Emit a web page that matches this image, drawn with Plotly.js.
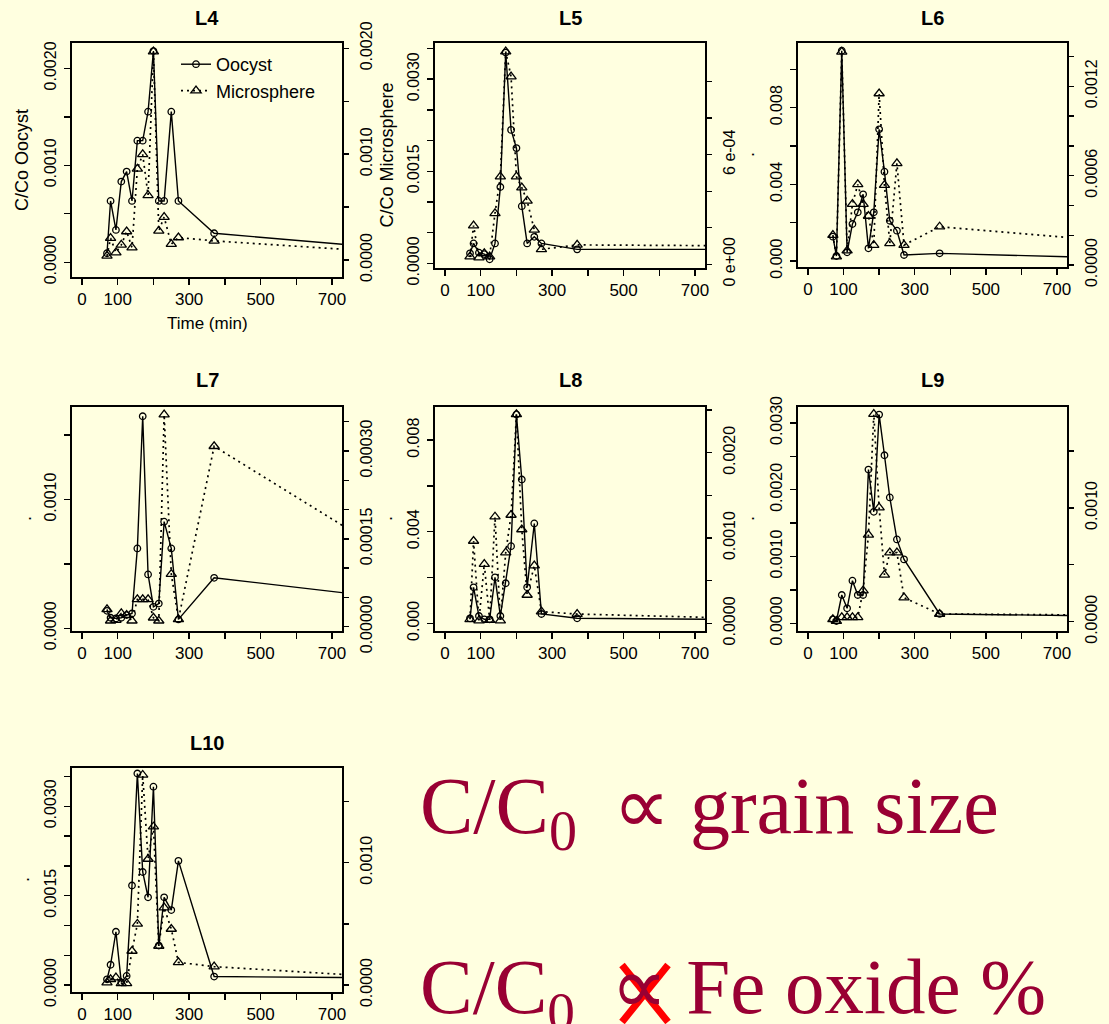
<!DOCTYPE html>
<html>
<head>
<meta charset="utf-8">
<script src="https://cdn.plot.ly/plotly-3.0.1.min.js"></script>
<style>
  html, body { margin: 0; padding: 0; background: #FFFFE0; }
  #chart { width: 1109px; height: 1024px; }
</style>
</head>
<body>
<div id="chart"></div>
<script>
// Sampling times (min); the final sample falls past the plotted window
const timeMin = [70, 80, 95, 110, 125, 140, 155, 170, 185, 200, 215, 230, 250, 270, 370, 750];

// C/Co of oocysts (left axis) and microspheres (right axis) per column
const oocystL4 = [0.000093, 0.000632, 0.000333, 0.000832, 0.000935, 0.000632, 0.001254, 0.001254, 0.001553, 0.002178, 0.000632, 0.000632, 0.001553, 0.000632, 0.000299, 0.000179];
const microL4  = [0.000038, 0.000206, 0.000070, 0.000142, 0.000269, 0.000117, 0.000861, 0.000997, 0.000611, 0.001969, 0.000275, 0.000405, 0.000149, 0.000212, 0.000180, 0.000097];

const oocystL5 = [0.000162, 0.000324, 0.000173, 0.000151, 0.000065, 0.000324, 0.001243, 0.003432, 0.002173, 0.001876, 0.000930, 0.000324, 0.000432, 0.000324, 0.000227, 0.000227];
const microL5  = [0.000042, 0.000212, 0.000037, 0.000060, 0.000042, 0.000279, 0.000480, 0.001164, 0.001027, 0.000480, 0.000420, 0.000347, 0.000188, 0.000082, 0.000106, 0.000102];

const oocystL6 = [0.00127, 0.00026, 0.01097, 0.000452, 0.00193, 0.00254, 0.00348, 0.00066, 0.00254, 0.00687, 0.00466, 0.0021, 0.00158, 0.000313, 0.0004, 0.00021];
const microL6  = [0.000201, 0.000056, 0.00143, 0.000096, 0.000409, 0.000541, 0.000409, 0.000329, 0.000134, 0.001151, 0.000536, 0.000145, 0.000682, 0.000134, 0.000257, 0.000181];

const oocystL7 = [0.000136, 0.000082, 0.000077, 0.000082, 0.000103, 0.000115, 0.00062, 0.001646, 0.000418, 0.000167, 0.000192, 0.000828, 0.00062, 0.000069, 0.000392, 0.00027];
const microL7  = [0.0000295, 0.0000102, 0.0000114, 0.0000227, 0.0000199, 0.0000102, 0.0000466, 0.0000466, 0.0000466, 0.0000153, 0.0000102, 0.000362, 0.0000898, 0.0000125, 0.000308, 0.000165];

const oocystL8 = [0.000218, 0.00157, 0.00032, 0.000175, 0.000175, 0.00201, 0.00032, 0.00175, 0.00337, 0.00912, 0.00628, 0.00157, 0.00436, 0.000407, 0.000218, 0.000175];
const microL8  = [0.000047, 0.000965, 0.000031, 0.000695, 0.000039, 0.00125, 0.000031, 0.000828, 0.00127, 0.00245, 0.0011, 0.000332, 0.000676, 0.000137, 0.000109, 0.000068];

const oocystL9 = [0.00006, 0.000035, 0.000424, 0.000224, 0.000638, 0.000424, 0.000424, 0.002302, 0.001669, 0.003124, 0.002516, 0.001884, 0.001256, 0.000957, 0.00014, 0.000115];
const microL9  = [0.00002, 0.000005, 0.000038, 0.000038, 0.000038, 0.000038, 0.000273, 0.000763, 0.001824, 0.001003, 0.000411, 0.000607, 0.000607, 0.000211, 0.0000675, 0.00006];

const oocystL10 = [0.000096, 0.00034, 0.000894, 0.000045, 0.000153, 0.00167, 0.003549, 0.001896, 0.001472, 0.003328, 0.000662, 0.001472, 0.001257, 0.002083, 0.000142, 0.000125];
const microL10  = [0.000019, 0.000046, 0.00006, 0.000014, 0.000014, 0.000278, 0.000499, 0.001717, 0.00103, 0.001294, 0.000319, 0.000632, 0.000458, 0.000185, 0.00015, 0.000083];

// Tick positions and labels
const timeTicks  = [0, 100, 200, 300, 400, 500, 600, 700];
const timeLabels = ['0', '100', '', '300', '', '500', '', '700'];

const ticksL4L = [0, 0.0005, 0.001, 0.0015, 0.002];
const labsL4L  = ['0.0000', '', '0.0010', '', '0.0020'];
const ticksL4R = [0, 0.0005, 0.001, 0.0015, 0.002];
const labsL4R  = ['0.0000', '', '0.0010', '', '0.0020'];

const ticksL5L = [0, 0.0005, 0.001, 0.0015, 0.002, 0.0025, 0.003, 0.0035];
const labsL5L  = ['0.0000', '', '', '0.0015', '', '', '0.0030', ''];
const ticksL5R = [0, 0.0002, 0.0004, 0.0006, 0.0008, 0.001];
const labsL5R  = ['0 e+00', '', '', '6 e-04', '', ''];

const ticksL6L = [0, 0.002, 0.004, 0.006, 0.008, 0.010];
const labsL6L  = ['0.000', '', '0.004', '', '0.008', ''];
const ticksL6R = [0, 0.0002, 0.0004, 0.0006, 0.0008, 0.001, 0.0012, 0.0014];
const labsL6R  = ['0.0000', '', '', '0.0006', '', '', '0.0012', ''];

const ticksL7L = [0, 0.0005, 0.001, 0.0015];
const labsL7L  = ['0.0000', '', '0.0010', ''];
const ticksL7R = [0, 0.00005, 0.0001, 0.00015, 0.0002, 0.00025, 0.0003, 0.00035];
const labsL7R  = ['0.00000', '', '', '0.00015', '', '', '0.00030', ''];

const ticksL8L = [0, 0.002, 0.004, 0.006, 0.008];
const labsL8L  = ['0.000', '', '0.004', '', '0.008'];
const ticksL8R = [0, 0.0005, 0.001, 0.0015, 0.002, 0.0025];
const labsL8R  = ['0.0000', '', '0.0010', '', '0.0020', ''];

const ticksL9L = [0, 0.0005, 0.001, 0.0015, 0.002, 0.0025, 0.003];
const labsL9L  = ['0.0000', '', '0.0010', '', '0.0020', '', '0.0030'];
const ticksL9R = [0, 0.0005, 0.001, 0.0015];
const labsL9R  = ['0.0000', '', '0.0010', ''];

const ticksL10L = [0, 0.0005, 0.001, 0.0015, 0.002, 0.0025, 0.003, 0.0035];
const labsL10L  = ['0.0000', '', '', '0.0015', '', '', '0.0030', ''];
const ticksL10R = [0, 0.0005, 0.001, 0.0015];
const labsL10R  = ['0.0000', '', '0.0010', ''];

// Page geometry
const W = 1109, H = 1024;
const BG = '#FFFFE0';
const INK = '#000000';
const SANS = '"Liberation Sans", Arial, Helvetica, sans-serif';

const panels = [
  { name: 'L4', ooc: oocystL4, mic: microL4, box: [72, 43, 342, 277], titleY: 18,
    yl: [-0.000152, 0.002261], tl: ticksL4L, ll: labsL4L,
    yr: [-0.000161, 0.00205], tr: ticksL4R, lr: labsL4R,
    ylab: 'C/Co Oocyst', ylabX: 22, legend: true },
  { name: 'L5', ooc: oocystL5, mic: microL5, box: [435, 43, 705, 268], titleY: 18,
    yl: [-0.0000765, 0.003588], tl: ticksL5L, ll: labsL5L,
    yr: [-0.0000203, 0.001211], tr: ticksL5R, lr: labsL5R,
    ylab: 'C/Co Microsphere', ylabX: 386 },
  { name: 'L6', ooc: oocystL6, mic: microL6, box: [798, 43, 1067, 267], titleY: 18,
    yl: [-0.000313, 0.01137], tl: ticksL6L, ll: labsL6L,
    yr: [-0.0000134, 0.00149], tr: ticksL6R, lr: labsL6R,
    ylab: '.', ylabX: 748 },
  { name: 'L7', ooc: oocystL7, mic: microL7, box: [72, 407, 342, 631], titleY: 380,
    yl: [-0.000021, 0.001718], tl: ticksL7L, ll: labsL7L,
    yr: [-0.0000073, 0.000375], tr: ticksL7R, lr: labsL7R,
    ylab: '.', ylabX: 25 },
  { name: 'L8', ooc: oocystL8, mic: microL8, box: [435, 407, 705, 631], titleY: 380,
    yl: [-0.000336, 0.009446], tl: ticksL8L, ll: labsL8L,
    yr: [-0.00009, 0.002536], tr: ticksL8R, lr: labsL8R,
    ylab: '.', ylabX: 386 },
  { name: 'L9', ooc: oocystL9, mic: microL9, box: [798, 407, 1067, 631], titleY: 380,
    yl: [-0.000115, 0.003238], tl: ticksL9L, ll: labsL9L,
    yr: [-0.000082, 0.001887], tr: ticksL9R, lr: labsL9R,
    ylab: '.', ylabX: 748 },
  { name: 'L10', ooc: oocystL10, mic: microL10, box: [72, 768, 342, 992], titleY: 743,
    yl: [-0.000117, 0.003641], tl: ticksL10L, ll: labsL10L,
    yr: [-0.0000572, 0.001774], tr: ticksL10R, lr: labsL10R,
    ylab: '.', ylabX: 23 }
];

const px = v => v / W;
const py = v => 1 - v / H;

const traces = [];
const layout = {
  width: W, height: H,
  margin: { l: 0, r: 0, t: 0, b: 0 },
  paper_bgcolor: BG, plot_bgcolor: BG,
  font: { family: SANS, color: INK, size: 16 },
  showlegend: true,
  legend: {
    x: px(176), y: py(46), xanchor: 'left', yanchor: 'top',
    bgcolor: 'rgba(0,0,0,0)', borderwidth: 0, tracegroupgap: 0,
    font: { family: SANS, size: 18, color: INK },
    itemwidth: 30
  },
  annotations: [],
  shapes: []
};

const axisCommon = {
  showgrid: false, zeroline: false,
  ticks: 'outside', ticklen: 6, tickwidth: 1.4, tickcolor: INK,
  tickmode: 'array', fixedrange: true
};

panels.forEach((p, i) => {
  const k = i + 1;
  const xa = 'x' + k;
  const yL = 'y' + (2 * k - 1);
  const yR = 'y' + (2 * k);
  const [l, t, r, b] = p.box;

  layout['xaxis' + k] = Object.assign({}, axisCommon, {
    domain: [px(l), px(r)], anchor: yL, range: [-28, 728],
    tickvals: timeTicks, ticktext: timeLabels,
    showline: true, mirror: true, linewidth: 1.7, linecolor: INK,
    tickfont: { size: 17, family: SANS, color: INK }
  });
  layout['yaxis' + (2 * k - 1)] = Object.assign({}, axisCommon, {
    domain: [py(b), py(t)], anchor: xa, range: p.yl,
    tickvals: p.tl, ticktext: p.ll, tickangle: -90,
    showline: true, mirror: true, linewidth: 1.7, linecolor: INK,
    ticklabelstandoff: 2,
    tickfont: { size: 16, family: SANS, color: INK }
  });
  layout['yaxis' + (2 * k)] = Object.assign({}, axisCommon, {
    overlaying: yL, side: 'right', anchor: xa, range: p.yr,
    tickvals: p.tr, ticktext: p.lr, tickangle: -90,
    showline: false, ticklabelstandoff: 4,
    tickfont: { size: 16, family: SANS, color: INK }
  });

  traces.push({
    type: 'scatter', mode: 'lines+markers', name: 'Oocyst',
    x: timeMin, y: p.ooc, xaxis: xa, yaxis: yL,
    showlegend: !!p.legend,
    line: { color: INK, width: 1.4 },
    marker: { symbol: 'circle-open', size: 6.5, color: INK, line: { width: 1.3, color: INK } }
  });
  traces.push({
    type: 'scatter', mode: 'lines+markers', name: 'Microsphere',
    x: timeMin, y: p.mic, xaxis: xa, yaxis: yR,
    showlegend: !!p.legend,
    line: { color: INK, width: 1.7, dash: '2px,4px' },
    marker: { symbol: 'triangle-up-open', size: 9, color: INK, line: { width: 1.3, color: INK } }
  });

  // panel heading
  layout.annotations.push({
    text: '<b>' + p.name + '</b>', xref: 'paper', yref: 'paper',
    x: px((l + r) / 2), y: py(p.titleY), xanchor: 'center', yanchor: 'middle',
    showarrow: false, font: { family: SANS, size: 20, color: INK }
  });
  // y-axis label
  layout.annotations.push({
    text: p.ylab, xref: 'paper', yref: 'paper', textangle: -90,
    x: px(p.ylabX), y: py((t + b) / 2), xanchor: 'center', yanchor: 'middle',
    showarrow: false, font: { family: SANS, size: 18, color: INK }
  });
});

// x-axis label on the first panel
layout.annotations.push({
  text: 'Time (min)', xref: 'paper', yref: 'paper',
  x: px(207), y: py(323), xanchor: 'center', yanchor: 'middle',
  showarrow: false, font: { family: SANS, size: 17, color: INK }
});

// Statements beside the last panel
const SERIF = '"Liberation Serif", "Times New Roman", serif';
const RED = '#990033';
layout.annotations.push({
  text: 'C/C<sub>0</sub>\u2009 \u221D grain size', xref: 'paper', yref: 'paper',
  x: px(418), y: py(812), xanchor: 'left', yanchor: 'middle',
  showarrow: false, font: { family: SERIF, size: 80, color: RED }
});
layout.annotations.push({
  text: 'C/C<sub>0</sub>\u2009 \u221D Fe oxide %', xref: 'paper', yref: 'paper',
  x: px(418), y: py(992), xanchor: 'left', yanchor: 'middle',
  showarrow: false, font: { family: SERIF, size: 79, color: RED }
});
// red cross striking out the second proportionality sign
layout.shapes.push(
  { type: 'line', xref: 'paper', yref: 'paper', x0: px(622), y0: py(965), x1: px(668), y1: py(1022), line: { color: '#FF0000', width: 7 } },
  { type: 'line', xref: 'paper', yref: 'paper', x0: px(668), y0: py(965), x1: px(622), y1: py(1022), line: { color: '#FF0000', width: 7 } }
);

Plotly.newPlot('chart', traces, layout, { displayModeBar: false, staticPlot: true });
</script>
</body>
</html>
